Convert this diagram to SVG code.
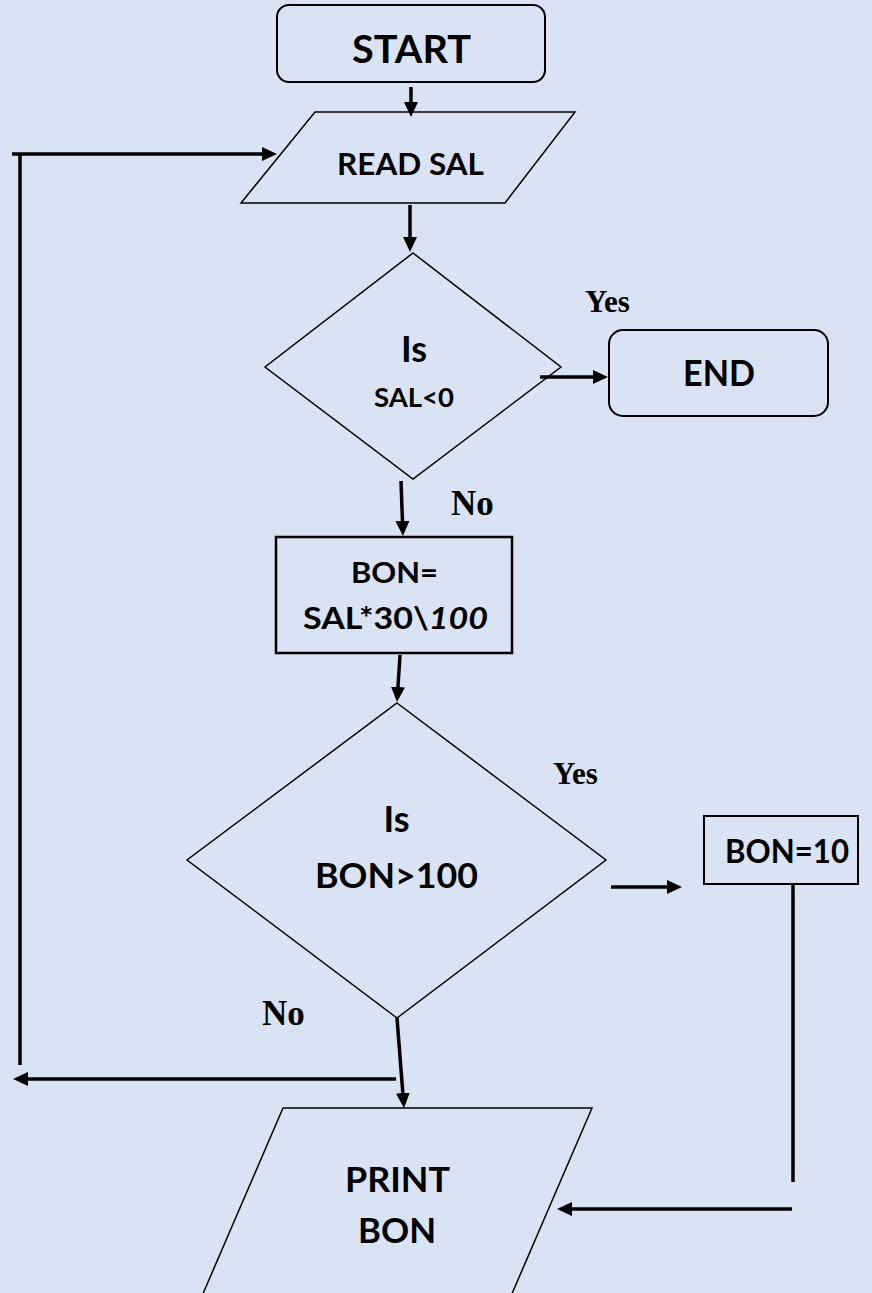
<svg xmlns="http://www.w3.org/2000/svg" width="872" height="1293" viewBox="0 0 872 1293">
  <style>
    .shape { fill: #DAE3F3; stroke: #000; }
    .thin { stroke-width: 1.5; }
    .med { stroke-width: 2; }
    .lbl { font-family: Lato, "Open Sans", "Liberation Sans", sans-serif; font-weight: bold; fill: #000; text-anchor: middle; }
    .yn { font-family: "Liberation Serif", "Times New Roman", serif; font-weight: bold; fill: #000; }
    .conn { fill: none; stroke: #000; stroke-width: 3.5; }
  </style>
  <defs>
    <marker id="arrow" markerUnits="userSpaceOnUse" viewBox="0 0 15 14" markerWidth="15" markerHeight="14" refX="11" refY="7" orient="auto">
      <path d="M0,0 L15,7 L0,14 Z" fill="#000"/>
    </marker>
  </defs>
  <rect x="0" y="0" width="872" height="1293" fill="#DAE3F3"/>

  <g id="start">
    <rect class="shape med" x="277" y="5" width="268" height="77" rx="12"/>
    <text class="lbl" x="411.5" y="63" font-size="39" textLength="119" lengthAdjust="spacingAndGlyphs">START</text>
  </g>
  <g id="read-sal">
    <polygon class="shape thin" points="315,112 575,112 505,203 241,203"/>
    <text class="lbl" x="410.5" y="175" font-size="31" textLength="147" lengthAdjust="spacingAndGlyphs">READ SAL</text>
  </g>
  <g id="decision-sal">
    <polygon class="shape thin" points="413,253 561,367 413,479 265,367"/>
    <text class="lbl" x="414" y="362" font-size="36">Is</text>
    <text class="lbl" x="414" y="407" font-size="26.5" textLength="80" lengthAdjust="spacingAndGlyphs">SAL&lt;0</text>
  </g>
  <g id="end">
    <rect class="shape med" x="609" y="330" width="219" height="86" rx="14"/>
    <text class="lbl" x="719" y="386" font-size="36" textLength="72" lengthAdjust="spacingAndGlyphs">END</text>
  </g>
  <g id="compute-bon">
    <rect class="shape" stroke-width="2.5" x="276" y="537" width="236" height="116"/>
    <text class="lbl" x="394.5" y="583" font-size="29" textLength="87" lengthAdjust="spacingAndGlyphs">BON=</text>
    <text class="lbl" x="395.5" y="629" font-size="30" textLength="185" lengthAdjust="spacingAndGlyphs">SAL*30\<tspan font-style="italic">100</tspan></text>
  </g>
  <g id="decision-bon">
    <polygon class="shape thin" points="397,703 606,860 397,1018 187,860"/>
    <text class="lbl" x="396.5" y="832" font-size="36">Is</text>
    <text class="lbl" x="396.5" y="888" font-size="35" textLength="163" lengthAdjust="spacingAndGlyphs">BON&gt;100</text>
  </g>
  <g id="bon-10">
    <rect class="shape med" x="704" y="816" width="154" height="68"/>
    <text class="lbl" x="787" y="863" font-size="32" textLength="124" lengthAdjust="spacingAndGlyphs">BON=10</text>
  </g>
  <g id="print-bon">
    <polygon class="shape thin" points="283,1108 592,1108 511,1296 202,1296"/>
    <text class="lbl" x="397.5" y="1192" font-size="35" textLength="105" lengthAdjust="spacingAndGlyphs">PRINT</text>
    <text class="lbl" x="397" y="1243" font-size="35" textLength="78" lengthAdjust="spacingAndGlyphs">BON</text>
  </g>

  <g id="labels">
    <text class="yn" x="585" y="312" font-size="31">Yes</text>
    <text class="yn" x="451" y="515" font-size="35">No</text>
    <text class="yn" x="553" y="784" font-size="31">Yes</text>
    <text class="yn" x="262" y="1025" font-size="35">No</text>
  </g>

  <g id="connectors">
    <path class="conn" d="M411,87 V113" marker-end="url(#arrow)"/>
    <path class="conn" d="M410,205 V248" marker-end="url(#arrow)"/>
    <path class="conn" d="M540,377 H604" marker-end="url(#arrow)"/>
    <path class="conn" d="M401,481 L402.85,532" marker-end="url(#arrow)"/>
    <path class="conn" d="M400,655 L397.25,698" marker-end="url(#arrow)"/>
    <path class="conn" d="M611,887 H678" marker-end="url(#arrow)"/>
    <path class="conn" d="M397,1018 L403.7,1104" marker-end="url(#arrow)"/>
    <path class="conn" d="M396,1079 H17" marker-end="url(#arrow)"/>
    <path class="conn" d="M20,1065 V154"/>
    <path class="conn" d="M12,154 H273" marker-end="url(#arrow)"/>
    <path class="conn" d="M793,884 V1182"/>
    <path class="conn" d="M792,1209 H561" marker-end="url(#arrow)"/>
  </g>
</svg>
